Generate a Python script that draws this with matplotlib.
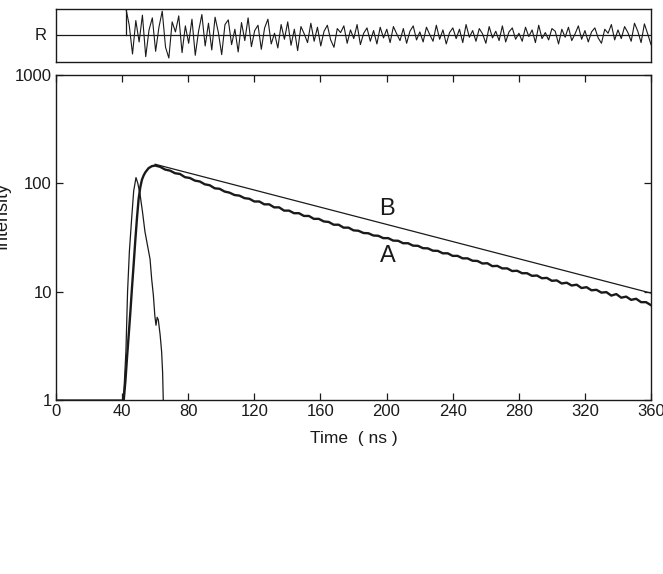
import numpy as np
import matplotlib
matplotlib.use("Agg")
import matplotlib.pyplot as plt
from matplotlib.ticker import NullLocator, FixedLocator

plt.rcParams['font.family'] = ['Liberation Sans', 'DejaVu Sans']

# ---- data ----
# excitation (lamp) profile
lamp_t = [0, 40.5, 41.2, 42.3, 43.3, 44.4, 45.8, 47.0, 48.4, 49.5, 50.8, 52.3,
          53.8, 55.3, 56.9, 57.9, 58.9, 59.8, 60.5, 61.2, 61.9, 63.0, 63.9, 64.5, 64.9]
lamp_v = [1, 1, 1.3, 2.8, 10, 23.5, 48, 85, 113, 100, 80, 55,
          36, 27, 20, 13, 9.3, 6.0, 4.9, 5.8, 5.5, 4.0, 2.8, 1.8, 1.0]

# measured decay (curve A): rise
rise_t = [41, 42, 43, 44, 45, 46, 47, 48, 49, 50, 51, 52, 53, 54, 55, 56, 57, 58, 59]
rise_v = [1, 1.5, 2.5, 4, 6.5, 11, 18, 30, 48, 72, 92, 108, 118, 126, 132, 138, 141, 144, 145]
# measured decay (curve A): tail, 3 ns channels from 60 ns to 360 ns
tail_v = [146, 142, 134, 131, 124, 122, 114, 112, 106, 104, 98, 96, 90, 89, 84, 82, 78,
          77, 73, 72, 68, 68, 64, 64, 60, 60, 56, 56, 53, 53, 50, 50, 47, 47, 44.5, 44,
          41.5, 41.5, 39, 39, 36.8, 36.5, 34.8, 34.6, 33, 32.8, 31.2, 31.2, 29.6, 29.5,
          28, 28, 26.6, 26.5, 25.2, 25.1, 23.9, 23.8, 22.6, 22.6, 21.4, 21.4, 20.3, 20.3,
          19.3, 19.2, 18.2, 18.3, 17.2, 17.3, 16.4, 16.4, 15.5, 15.6, 14.8, 14.8, 14.0,
          14.1, 13.3, 13.4, 12.6, 12.7, 11.9, 12.1, 11.4, 11.6, 10.8, 11.0, 10.3, 10.4,
          9.8, 9.9, 9.2, 9.5, 8.8, 9.0, 8.4, 8.6, 8.0, 8.0, 7.5]

# fitted single exponential (curve B) end points
fit_t = [60, 360]
fit_v = [150, 9.7]

# weighted residuals (top panel), 2 ns spacing from 42 ns
res = [4.0, 1.5, -2.8, 2.2, -1.0, 3.0, -3.2, 0.8, 2.6, -2.4, 1.2, 3.6, -1.8, -3.4, 2.0,
       0.5, 2.9, -2.6, 1.4, -1.2, 2.4, -3.0, 0.6, 3.1, -1.6, 1.8, -2.2, 2.7, 0.4, -2.9,
       1.6, 2.3, -1.4, 0.9, -2.5,
       1.9, -0.8, 2.6, -1.7, 0.7, 1.5, -2.1, 1.1, 2.4, -1.3, 0.3, -1.9, 1.6, -0.6, 2.0,
       -1.5, 0.9, -2.3, 1.3, 0.2, -1.1, 1.8, -0.9, 1.2, -1.6, 0.6, 1.5, -0.7, -1.8, 1.0,
       0.4, 1.4, -1.2, 0.8, -0.5, 1.6, -1.4, 0.3, 1.1, -0.9, 0.7, -1.3, 1.2, -0.4, 0.9,
       -1.1, 1.3, 0.2, -0.8, 1.0, -1.2, 0.6, 1.4, -0.7, 0.5, -1.0, 1.2, 0.1, -0.9, 1.5,
       -0.6, 0.8, -1.3, 0.4, 1.1, -0.5, 0.9, -1.1, 1.6, -0.3, 0.7, -0.9, 1.0, 0.2, -1.2,
       1.3, -0.4, 0.6, -0.8, 1.4, -1.0, 0.5, 1.1, -0.6, 0.3, -0.9, 1.2, -0.2, 0.8, -1.1,
       1.5, -0.5, 0.4, -0.7, 1.0, 0.6, -1.3, 0.9, -0.3, 1.2, -0.8, 0.2, 1.4, -0.6, 0.7,
       -1.0, 0.5, 1.1, -0.4, -1.2, 0.9, 0.3, 1.6, -0.7, 0.8, -0.5, 1.3, 0.4, -0.9, 1.8,
       0.6, -1.1, 1.7, 0.2, -1.4]

x_ticks = [0, 40, 80, 120, 160, 200, 240, 280, 320, 360]
y_ticks = [1, 10, 100, 1000]
y_tick_labels = ['1', '10', '100', '1000']

# ---- figure ----
W, H = 663, 574
fig = plt.figure(figsize=(W / 100, H / 100), dpi=100)
ax = fig.add_axes([56 / W, 1 - 400 / H, 595 / W, 325 / H])
axr = fig.add_axes([56 / W, 1 - 62 / H, 595 / W, 53.5 / H])

ink = '#1a1a1a'

tail_t = np.linspace(60, 360, len(tail_v))
a_t = np.concatenate([rise_t, tail_t])
a_v = np.concatenate([rise_v, tail_v])

ax.plot(lamp_t, lamp_v, color=ink, lw=0.9)
ax.plot(fit_t, fit_v, color=ink, lw=0.9)
ax.plot(a_t, a_v, color=ink, lw=1.7)

ax.set_yscale('log')
ax.set_xlim(0, 360)
ax.set_ylim(1, 1000)
ax.xaxis.set_major_locator(FixedLocator(x_ticks))
ax.yaxis.set_major_locator(FixedLocator(y_ticks))
ax.yaxis.set_minor_locator(NullLocator())
ax.set_yticklabels(y_tick_labels)
ax.tick_params(axis='both', which='major', direction='in', length=5, width=0.9,
               labelsize=12, pad=3, top=True, right=True, colors=ink)
for s in ax.spines.values():
    s.set_linewidth(1.0)
    s.set_color(ink)

ax.text(200.5, 58, 'B', fontsize=17, ha='center', va='center', color=ink)
ax.text(200.5, 21.2, 'A', fontsize=17, ha='center', va='center', color=ink)

fig.text(353.5 / W, 1 - 438 / H, 'Time  ( ns )', fontsize=12.5, ha='center',
         va='center', color=ink)
fig.text(2 / W, 1 - 215 / H, 'Intensity', fontsize=13, rotation=90, ha='center',
         va='center', color=ink)

# residual panel
r_t = np.linspace(42.3, 360, len(res))
axr.axhline(0, color=ink, lw=0.9)
axr.plot([r_t[0], r_t[0]], [0, 4], color=ink, lw=0.9)
axr.plot(r_t, res, color=ink, lw=0.8)
axr.set_xlim(0, 360)
axr.set_ylim(-4, 4)
axr.set_xticks([])
axr.set_yticks([])
for s in axr.spines.values():
    s.set_linewidth(1.0)
    s.set_color(ink)
axr.text(-0.015, 0.5, 'R', transform=axr.transAxes, fontsize=12, ha='right',
         va='center', color=ink)

fig.savefig('out.png', dpi=100, facecolor='white')
